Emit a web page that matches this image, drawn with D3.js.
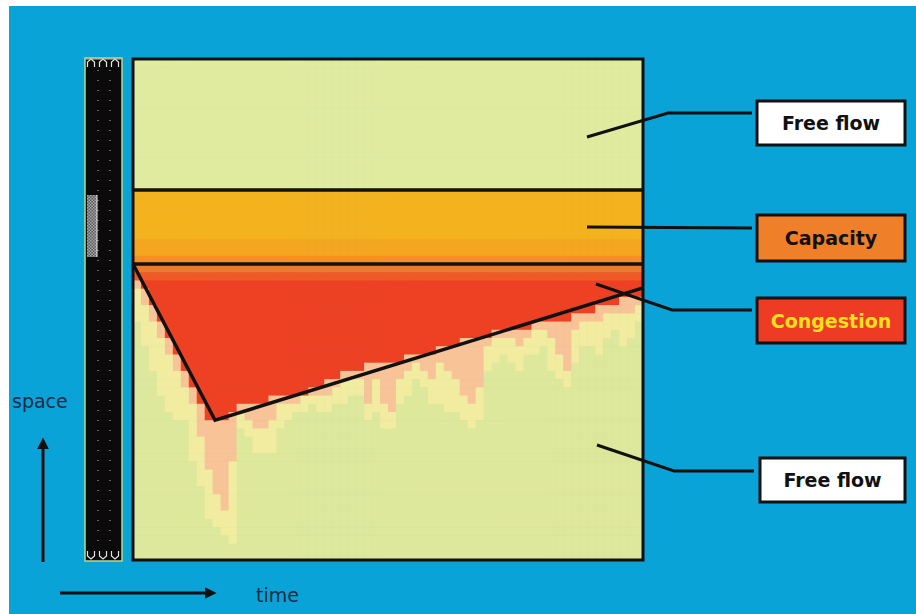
<!DOCTYPE html>
<html>
<head>
<meta charset="utf-8">
<script src="https://cdn.jsdelivr.net/npm/d3@7"></script>
<style>
  body { margin: 0; background: #fff; }
  text { font-family: "DejaVu Sans", Verdana, sans-serif; }
</style>
</head>
<body>
<svg id="chart" width="916" height="614"></svg>
<script>
// one entry per time slice (64 slices); values are rows below the capacity front
// where each traffic state stops
let jamEnd = [2, 3, 5, 7, 9, 11, 13, 15, 17, 19, 19, 19, 18, 17, 17, 17,
  17, 16, 16, 16, 16, 16, 15, 15, 14, 14, 13, 13, 13, 12, 12, 12,
  12, 12, 11, 11, 11, 11, 10, 10, 10, 9, 9, 9, 9, 8, 8, 8,
  8, 8, 7, 7, 7, 7, 7, 6, 6, 6, 5, 5, 5, 4, 4, 4]
let tailEnd = [3, 5, 7, 9, 11, 13, 15, 17, 21, 25, 28, 30, 24, 18, 19, 20,
  20, 19, 17, 17, 17, 16, 16, 16, 16, 15, 14, 14, 14, 17, 14, 17,
  18, 14, 13, 12, 13, 14, 12, 13, 14, 16, 17, 15, 10, 9, 9, 9,
  10, 9, 8, 8, 9, 11, 13, 8, 7, 7, 7, 6, 6, 6, 6, 5]
let fringeEnd = [7, 10, 13, 16, 18, 19, 19, 24, 27, 31, 32, 33, 34, 20, 21, 23,
  23, 23, 20, 19, 18, 18, 17, 18, 18, 17, 17, 16, 16, 19, 18, 20,
  20, 17, 16, 14, 15, 17, 17, 18, 18, 19, 20, 19, 13, 12, 11, 12,
  13, 11, 11, 10, 13, 14, 15, 12, 10, 10, 11, 9, 8, 10, 9, 7]
// capacity band, top to bottom
let capacityRows = ["cap1", "cap1", "cap1", "cap1", "cap1", "cap1", "cap2", "cap2", "cap3"]
let freeRows = 16, congestedRows = 36

let labels = ["Free flow", "Capacity", "Congestion", "Free flow"]
let labelKind = ["free", "capacity", "congestion", "free"]

let width = 916, height = 614
let svg = d3.select("#chart")

let color = d3.scaleOrdinal()
  .domain(["freeTop", "cap1", "cap2", "cap3", "head", "queue", "jam", "tail", "fringe", "free"])
  .range(["#e1eba0", "#f4b31e", "#f4a620", "#f39023", "#f17a28", "#ef5a26", "#ee4123",
          "#f7c397", "#f1eca0", "#dde89c"])

let box = {left: 133, right: 643, top: 59, capTop: 190, jamTop: 264, bottom: 560}

let x = d3.scaleBand().domain(d3.range(jamEnd.length)).range([box.left, box.right])
let yFree = d3.scaleBand().domain(d3.range(freeRows)).range([box.top, box.capTop])
let yCap = d3.scaleBand().domain(d3.range(capacityRows.length)).range([box.capTop, box.jamTop])
let yJam = d3.scaleBand().domain(d3.range(congestedRows)).range([box.jamTop, box.bottom])
// continuous versions for the annotation triangle
let xLin = d3.scaleLinear().domain([0, jamEnd.length]).range([box.left, box.right])
let yLin = d3.scaleLinear().domain([0, congestedRows]).range([box.jamTop, box.bottom])

svg.append("rect").attr("width", width).attr("height", height).attr("fill", "#fff")
svg.append("rect").attr("x", 9).attr("y", 6).attr("width", width - 9).attr("height", height - 6)
  .attr("fill", "#0aa3d7")

// cells
let cells = []
x.domain().forEach(i => {
  yFree.domain().forEach(r => cells.push({i, y: yFree(r), h: yFree.bandwidth(), s: "freeTop"}))
  capacityRows.forEach((s, r) => cells.push({i, y: yCap(r), h: yCap.bandwidth(), s}))
  yJam.domain().forEach(r => {
    let s = "free"
    if (r < jamEnd[i]) s = r == 0 ? "head" : r == 1 ? "queue" : "jam"
    else if (r < tailEnd[i]) s = "tail"
    else if (r < fringeEnd[i]) s = "fringe"
    cells.push({i, y: yJam(r), h: yJam.bandwidth(), s})
  })
})

svg.append("g")
  .selectAll("rect")
  .data(cells).enter()
  .append("rect")
  .attr("x", d => x(d.i))
  .attr("y", d => d.y)
  .attr("width", x.bandwidth() + 0.6)
  .attr("height", d => d.h + 0.6)
  .attr("fill", d => color(d.s))

// frame and band separators
svg.append("rect")
  .attr("x", box.left).attr("y", box.top)
  .attr("width", box.right - box.left).attr("height", box.bottom - box.top)
  .attr("fill", "none").attr("stroke", "#111").attr("stroke-width", 3)
;[box.capTop, box.jamTop].forEach(yy => {
  svg.append("line").attr("x1", box.left).attr("x2", box.right)
    .attr("y1", yy).attr("y2", yy).attr("stroke", "#111").attr("stroke-width", 3.5)
})

// shock-wave triangle
let tri = [[0, 0], [10.3, 19], [64, 2.9]]
svg.append("path")
  .attr("d", d3.line()(tri.map(p => [xLin(p[0]), yLin(p[1])])))
  .attr("fill", "none").attr("stroke", "#111").attr("stroke-width", 3.5)
  .attr("stroke-linejoin", "miter")

// road strip
let road = svg.append("g")
let defs = svg.append("defs")
defs.append("pattern").attr("id", "hatch").attr("width", 3).attr("height", 3)
  .attr("patternUnits", "userSpaceOnUse")
  .call(p => {
    p.append("rect").attr("width", 3).attr("height", 3).attr("fill", "#5a5a5a")
    p.append("rect").attr("width", 1.5).attr("height", 1.5).attr("fill", "#a8a8a8")
    p.append("rect").attr("x", 1.5).attr("y", 1.5).attr("width", 1.5).attr("height", 1.5).attr("fill", "#a8a8a8")
  })
road.append("rect").attr("x", 85).attr("y", 58).attr("width", 37).attr("height", 503)
  .attr("fill", "#0b0b0b").attr("stroke", "#b8d98c").attr("stroke-width", 1.5)
;[98, 110].forEach(xx => {
  road.append("line").attr("x1", xx).attr("x2", xx).attr("y1", 70).attr("y2", 548)
    .attr("stroke", "#bdbdbd").attr("stroke-width", 1).attr("stroke-dasharray", "1,9")
})
road.append("rect").attr("x", 87).attr("y", 195).attr("width", 10).attr("height", 62)
  .attr("fill", "url(#hatch)")
road.append("line").attr("x1", 97).attr("x2", 97).attr("y1", 195).attr("y2", 257)
  .attr("stroke", "#eee").attr("stroke-width", 1)
;[[58, 1], [551, -1]].forEach(([yy, dir]) => {
  [91, 103, 115].forEach(xx => {
    road.append("path")
      .attr("d", `M${xx - 3.5},${yy + 9 * (dir > 0 ? 1 : 0)} v${-5 * dir} l3.5,${-3 * dir} l3.5,${3 * dir} v${5 * dir}`)
      .attr("fill", "none").attr("stroke", "#e6e6e6").attr("stroke-width", 1.2)
  })
})
road.append("line").attr("x1", 86).attr("x2", 121).attr("y1", 59).attr("y2", 59)
  .attr("stroke", "#ccc").attr("stroke-width", 1)

// axis arrows
defs.append("marker").attr("id", "head").attr("viewBox", "0 0 10 10")
  .attr("refX", 2).attr("refY", 5).attr("markerWidth", 4).attr("markerHeight", 4)
  .attr("orient", "auto")
  .append("path").attr("d", "M0,0 L10,5 L0,10 Z").attr("fill", "#111")
svg.append("line").attr("x1", 43).attr("x2", 43).attr("y1", 562).attr("y2", 447)
  .attr("stroke", "#111").attr("stroke-width", 3).attr("marker-end", "url(#head)")
svg.append("line").attr("x1", 60).attr("x2", 207).attr("y1", 593).attr("y2", 593)
  .attr("stroke", "#111").attr("stroke-width", 3).attr("marker-end", "url(#head)")
svg.append("text").attr("x", 12).attr("y", 408).attr("font-size", 19)
  .attr("fill", "#1b2a44").text("space")
svg.append("text").attr("x", 256).attr("y", 602).attr("font-size", 19)
  .attr("fill", "#1b2a44").text("time")

// callouts
let connectors = [
  [[587, 137], [668, 113], [752, 113]],
  [[587, 227], [752, 228]],
  [[596, 284], [672, 310], [752, 310]],
  [[597, 445], [674, 471], [754, 471]]
]
let boxes = [[757, 101, 148, 44], [757, 215, 148, 46], [757, 298, 148, 45], [760, 458, 145, 44]]
let boxFill = {free: "#ffffff", capacity: "#f07f2a", congestion: "#ee3b24"}
let textFill = {free: "#111", capacity: "#111", congestion: "#f7e21c"}

svg.append("g").selectAll("path")
  .data(connectors).enter()
  .append("path")
  .attr("d", d3.line())
  .attr("fill", "none").attr("stroke", "#111").attr("stroke-width", 3)

let g = svg.append("g").selectAll("g")
  .data(labels).enter()
  .append("g")
g.append("rect")
  .attr("x", (d, k) => boxes[k][0]).attr("y", (d, k) => boxes[k][1])
  .attr("width", (d, k) => boxes[k][2]).attr("height", (d, k) => boxes[k][3])
  .attr("fill", (d, k) => boxFill[labelKind[k]])
  .attr("stroke", "#111").attr("stroke-width", 3)
g.append("text")
  .attr("x", (d, k) => boxes[k][0] + boxes[k][2] / 2)
  .attr("y", (d, k) => boxes[k][1] + boxes[k][3] / 2 + 7)
  .attr("text-anchor", "middle")
  .attr("font-size", 19).attr("font-weight", "bold")
  .attr("fill", (d, k) => textFill[labelKind[k]])
  .text(d => d)
</script>
</body>
</html>
